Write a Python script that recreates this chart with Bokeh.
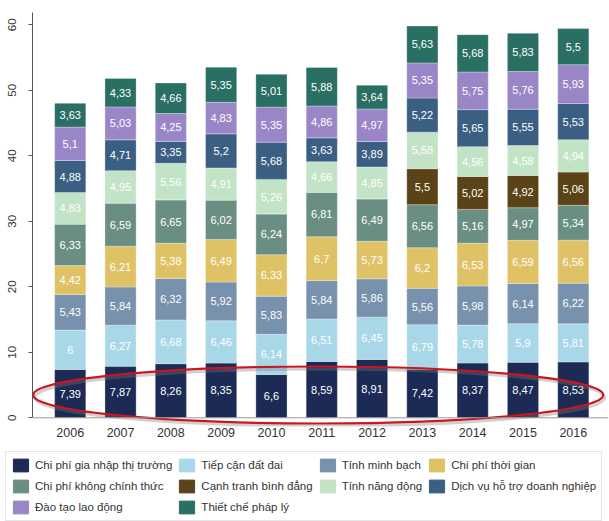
import numpy as np
from bokeh.plotting import figure
from bokeh.models import ColumnDataSource, Legend, LegendItem, FixedTicker, Span
from bokeh.core.properties import value
from bokeh.embed import file_html
from bokeh.resources import INLINE

years = [2006, 2007, 2008, 2009, 2010, 2011, 2012, 2013, 2014, 2015, 2016]

series_names = [
    "Chi phí gia nhập thị trường",
    "Tiếp cận đất đai",
    "Tính minh bạch",
    "Chi phí thời gian",
    "Chi phí không chính thức",
    "Cạnh tranh bình đẳng",
    "Tính năng động",
    "Dịch vụ hỗ trợ doanh nghiệp",
    "Đào tạo lao động",
    "Thiết chế pháp lý",
]

chi_phi_gia_nhap = [7.39, 7.87, 8.26, 8.35, 6.6, 8.59, 8.91, 7.42, 8.37, 8.47, 8.53]
tiep_can_dat_dai = [6, 6.27, 6.68, 6.46, 6.14, 6.51, 6.45, 6.79, 5.78, 5.9, 5.81]
tinh_minh_bach = [5.43, 5.84, 6.32, 5.92, 5.83, 5.84, 5.86, 5.56, 5.98, 6.14, 6.22]
chi_phi_thoi_gian = [4.42, 6.21, 5.38, 6.49, 6.33, 6.7, 5.73, 6.2, 6.53, 6.59, 6.56]
chi_phi_khong_chinh_thuc = [6.33, 6.59, 6.65, 6.02, 6.24, 6.81, 6.49, 6.56, 5.16, 4.97, 5.34]
canh_tranh_binh_dang = [0, 0, 0, 0, 0, 0, 0, 5.5, 5.02, 4.92, 5.06]
tinh_nang_dong = [4.83, 4.95, 5.56, 4.91, 5.26, 4.66, 4.85, 5.58, 4.56, 4.58, 4.94]
dich_vu_ho_tro = [4.88, 4.71, 3.35, 5.2, 5.68, 3.63, 3.89, 5.22, 5.65, 5.55, 5.53]
dao_tao_lao_dong = [5.1, 5.03, 4.25, 4.83, 5.35, 4.86, 4.97, 5.35, 5.75, 5.76, 5.93]
thiet_che_phap_ly = [3.63, 4.33, 4.66, 5.35, 5.01, 5.88, 3.64, 5.63, 5.68, 5.83, 5.5]

series_values = [
    chi_phi_gia_nhap, tiep_can_dat_dai, tinh_minh_bach, chi_phi_thoi_gian,
    chi_phi_khong_chinh_thuc, canh_tranh_binh_dang, tinh_nang_dong,
    dich_vu_ho_tro, dao_tao_lao_dong, thiet_che_phap_ly,
]

colors = [
    "#1c2b55", "#a8d8e8", "#7891ad", "#dfc265", "#6a8f82",
    "#5b4318", "#c3e3c6", "#3b5f82", "#9a86c7", "#296f63",
]

FONT = "Liberation Sans"

keys = [f"s{i}" for i in range(len(series_names))]
data = {"year": years}
for k, v in zip(keys, series_values):
    data[k] = v
source = ColumnDataSource(data)

# label positions (segment centres)
lx, ly, lt = [], [], []
bottom = np.zeros(len(years))
for v in series_values:
    arr = np.array(v, dtype=float)
    for i, yv in enumerate(years):
        if arr[i] > 0:
            lx.append(yv)
            ly.append(bottom[i] + arr[i] / 2)
            lt.append(f"{arr[i]:g}".replace(".", ","))
    bottom = bottom + arr
label_src = ColumnDataSource(dict(x=lx, y=ly, text=lt))

p = figure(
    width=609, height=446,
    x_range=(2005.25, 2016.70), y_range=(-1.33, 61.88),
    output_backend="svg", toolbar_location=None,
    min_border_left=32, min_border_top=12, min_border_right=1, min_border_bottom=20,
)
p.outline_line_color = None
p.xgrid.visible = False
p.ygrid.visible = False
p.background_fill_color = "white"

renderers = p.vbar_stack(keys, x="year", width=0.62, color=colors, source=source,
                         line_color="white", line_alpha=0.5, line_width=0.6)

p.add_layout(Span(location=0, dimension="width", line_color="#9a9a9a", line_width=1))

p.text(x="x", y="y", text="text", source=label_src, text_align="center",
       text_baseline="middle", text_color="white", text_font=value(FONT),
       text_font_size="11px")

# hand-drawn style highlight ellipse
p.ellipse(x=[2010.96], y=[3.1], width=11.33, height=8.7, fill_color=None,
          line_color="#777777", line_alpha=0.35, line_width=3)
p.ellipse(x=[2010.93], y=[3.48], width=11.33, height=8.7, fill_color=None,
          line_color="#c8171e", line_width=2.2)

yax = p.yaxis[0]
yax.ticker = FixedTicker(ticks=[0, 10, 20, 30, 40, 50, 60])
yax.bounds = (0, 61.88)
yax.axis_line_color = "#555555"
yax.major_tick_line_color = "#555555"
yax.major_tick_out = 4
yax.major_tick_in = 0
yax.minor_tick_line_color = None
yax.major_label_orientation = "vertical"
yax.major_label_standoff = 12
yax.major_label_text_font = FONT
yax.major_label_text_font_size = "11.5px"
yax.major_label_text_color = "#333333"

xax = p.xaxis[0]
xax.ticker = FixedTicker(ticks=years)
xax.axis_line_color = None
xax.major_tick_line_color = None
xax.minor_tick_line_color = None
xax.major_tick_out = 0
xax.major_tick_in = 0
xax.major_label_standoff = 1
xax.major_label_text_font = FONT
xax.major_label_text_font_size = "12.5px"
xax.major_label_text_color = "#333333"

# legend strip (separate root below the chart); its bars sit outside its visible range
lp = figure(width=609, height=75, x_range=(0, 1), y_range=(0, 1),
            x_axis_type=None, y_axis_type=None,
            output_backend="svg", toolbar_location=None,
            min_border=0, min_border_left=0, min_border_right=0,
            min_border_top=0, min_border_bottom=0)
lp.outline_line_color = None
lp.xgrid.visible = False
lp.ygrid.visible = False
legend_renderers = lp.vbar_stack(keys, x="year", width=0.62, color=colors, source=source)

items = [LegendItem(label=n, renderers=[r]) for n, r in zip(series_names, legend_renderers)]
legend = Legend(
    items=items, orientation="horizontal", ncols=4,
    location=(5, 0.5),
    glyph_width=19, glyph_height=16, label_height=16, label_standoff=5,
    spacing=5, padding=5, margin=0,
    label_text_font=FONT, label_text_font_size="11.5px", label_text_color="#333333",
    border_line_color="#cccccc", border_line_width=1,
    background_fill_color="white", background_fill_alpha=1.0,
)
lp.add_layout(legend, "center")

open("out.html", "w").write(file_html([p, lp], INLINE))
